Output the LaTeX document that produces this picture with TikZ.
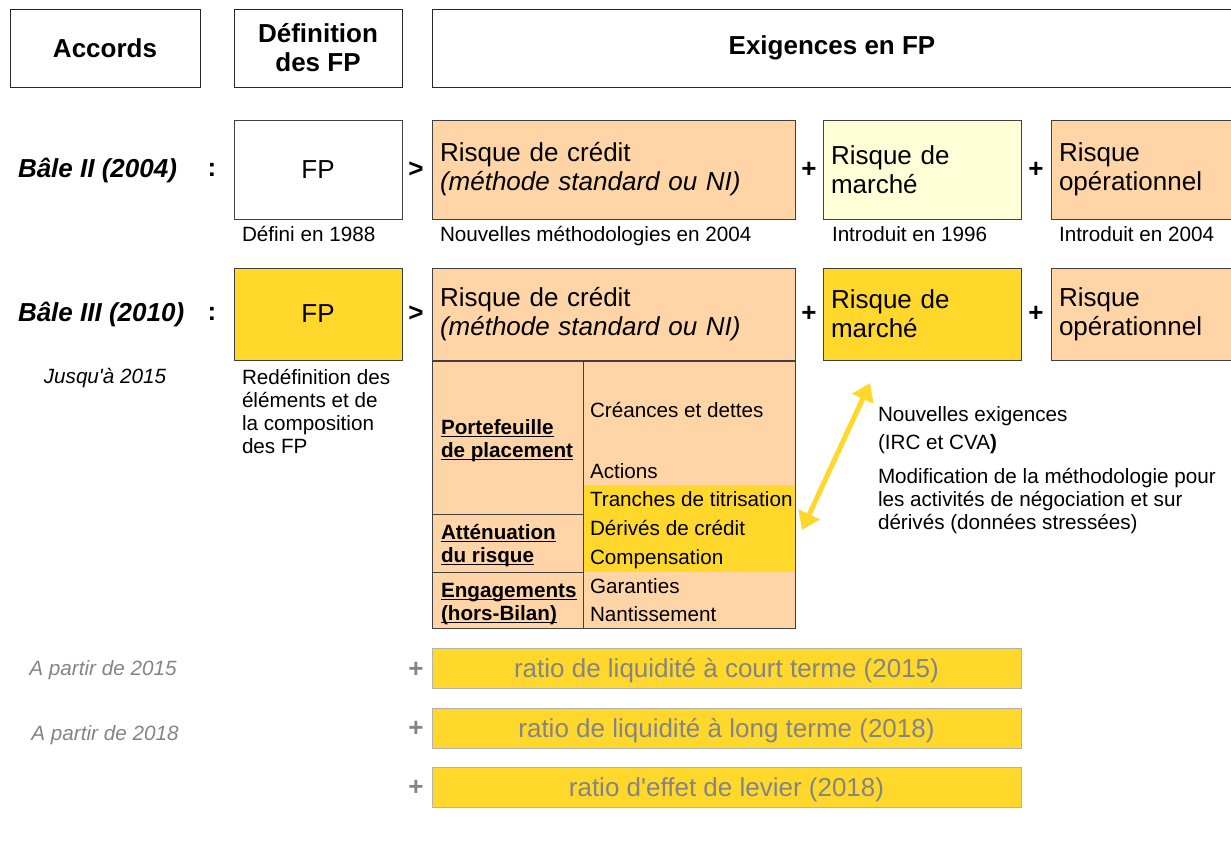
\documentclass[tikz,border=0pt]{standalone}
\usepackage{fontspec}
\setmainfont{Liberation Sans}
\usetikzlibrary{arrows.meta}
\definecolor{peach}{HTML}{FFD5A8}
\definecolor{gold}{HTML}{FFD82B}
\definecolor{cream}{HTML}{FFFFD7}
\definecolor{txtgray}{HTML}{848484}
\newcommand\bigtxt{\fontsize{19.5}{21.75}\selectfont}
\newcommand\smalltxt{\fontsize{15.5}{17.25}\selectfont}
\newcommand\rubricline[1]{\underline{\smash{#1}}}

\begin{document}
\begin{tikzpicture}
[x=0.75pt,y=-0.75pt,%
  every node/.style={inner sep=0pt,outer sep=0pt},%
  head/.style={draw=black!85,anchor=north west,minimum height=58.5pt,align=center,font=\bigtxt\bfseries},%
  box/.style={draw=black!75,anchor=north west,inner xsep=6pt,align=left,font=\bigtxt},%
  fpbox/.style={box,minimum width=126pt,align=center},%
  accord/.style={anchor=west,font=\bigtxt\bfseries\itshape},%
  sign/.style={font=\bigtxt\bfseries},%
  note/.style={anchor=base west,align=left,font=\smalltxt},%
  cell/.style={anchor=base west,font=\smalltxt},%
  rubric/.style={anchor=base west,align=left,font=\smalltxt\bfseries},%
  ratio/.style={draw=black!30,fill=gold,anchor=north west,minimum width=441.75pt,minimum height=30pt,text depth=0pt,font=\bigtxt,text=txtgray},%
  date/.style={anchor=base,font=\smalltxt\itshape}]
\useasboundingbox (0,0) rectangle (1231,853);
% en-tetes
\node[head,minimum width=142.5pt] (accords) at (10,9) {Accords};
\node[head,minimum width=126pt] (deffp) at (234,9) {Définition\\des FP};
\node[head,minimum width=600pt] (exig) at (432,9) {Exigences en FP};
% Bale II
\node[accord] (bale2) at (18,170) {Bâle II (2004)};
\node[sign] (col2) at (212,170) {:};
\node[fpbox,fill=white,minimum height=74.25pt] (fp2) at (234,120) {FP};
\node[sign] (gt2) at (416,170) {>};
\node[box,fill=peach,text width=260.25pt,minimum height=74.25pt] (cred2) at (432,120)
  {Risque de crédit\\\textit{(méthode standard ou NI)}};
\node[sign] (plus2a) at (809,170) {+};
\node[box,fill=cream,text width=136.5pt,minimum height=74.25pt] (marc2) at (823,120)
  {Risque de\\marché};
\node[sign] (plus2b) at (1036,170) {+};
\node[box,fill=peach,text width=136.5pt,minimum height=74.25pt] (oper2) at (1051,120)
  {Risque\\opérationnel};
\node[note] (nfp2) at (242,241) {Défini en 1988};
\node[note] (ncred2) at (440,241) {Nouvelles méthodologies en 2004};
\node[note] (nmarc2) at (832,241) {Introduit en 1996};
\node[note] (noper2) at (1059,241) {Introduit en 2004};
% Bale III
\node[accord] (bale3) at (18,314) {Bâle III (2010)};
\node[sign] (col3) at (212,314) {:};
\node[fpbox,fill=gold,minimum height=69pt] (fp3) at (234,268) {FP};
\node[sign] (gt3) at (416,314) {>};
\node[box,fill=peach,text width=260.25pt,minimum height=69pt] (cred3) at (432,268)
  {Risque de crédit\\\textit{(méthode standard ou NI)}};
\node[sign] (plus3a) at (809,314) {+};
\node[box,fill=gold,text width=136.5pt,minimum height=69pt] (marc3) at (823,268)
  {Risque de\\marché};
\node[sign] (plus3b) at (1036,314) {+};
\node[box,fill=peach,text width=136.5pt,minimum height=69pt] (oper3) at (1051,268)
  {Risque\\opérationnel};
\node[date] (jusqua) at (105,383) {Jusqu\textquotesingle à 2015};
\node[note] (nfp3) at (242,453) {Redéfinition des\\éléments et de\\la composition\\des FP};
% tableau du risque de credit
\node[fill=peach,anchor=north west,minimum width=272.25pt,minimum height=200.25pt] (tab) at (432,361) {};
\fill[gold] (583,485) rectangle (795,572);
\draw[black!75] (tab.north west) rectangle (tab.south east);
\draw[black!75] (583,361) -- (583,628) (432,514) -- (583,514) (432,572) -- (583,572);
\node[rubric] (portef) at (441,457) {\rubricline{Portefeuille}\\\rubricline{de placement}};
\node[rubric] (attenu) at (441,562) {\rubricline{Atténuation}\\\rubricline{du risque}};
\node[rubric] (engag) at (441,620) {\rubricline{Engagements}\\\rubricline{(hors-Bilan)}};
\node[cell] (creances) at (590,417) {Créances et dettes};
\node[cell] (actions) at (590,478) {Actions};
\node[cell] (tranches) at (590,506) {Tranches de titrisation};
\node[cell] (derives) at (590,535) {Dérivés de crédit};
\node[cell] (compens) at (590,564) {Compensation};
\node[cell] (garant) at (590,593) {Garanties};
\node[cell] (nantis) at (590,621) {Nantissement};
% risque de marche
\coordinate (arrlow) at (802,530);
\coordinate (arrup) at (870,383);
\draw[gold,line width=3.75pt,{Triangle[length=13pt,width=17pt]}-{Triangle[length=13pt,width=17pt]}] (arrlow) -- (arrup);
\node[note] (nouv) at (878,421) {Nouvelles exigences};
\node[note] (irc) at (878,449) {(IRC et CVA\textbf{)}};
\node[note] (modif) at (878,529) {Modification de la méthodologie pour\\les activités de négociation et sur\\dérivés (données stressées)};
% ratios
\node[date,text=txtgray] (apartir15) at (103,675) {A partir de 2015};
\node[date,text=txtgray] (apartir18) at (105,740) {A partir de 2018};
\node[sign,text=txtgray] (plusA) at (416,670) {+};
\node[sign,text=txtgray] (plusB) at (416,729) {+};
\node[sign,text=txtgray] (plusC) at (416,788) {+};
\node[ratio] (lcr) at (432,648) {ratio de liquidité à court terme (2015)};
\node[ratio] (nsfr) at (432,708) {ratio de liquidité à long terme (2018)};
\node[ratio] (lev) at (432,767) {ratio d\textquotesingle effet de levier (2018)};
\end{tikzpicture}
\end{document}
